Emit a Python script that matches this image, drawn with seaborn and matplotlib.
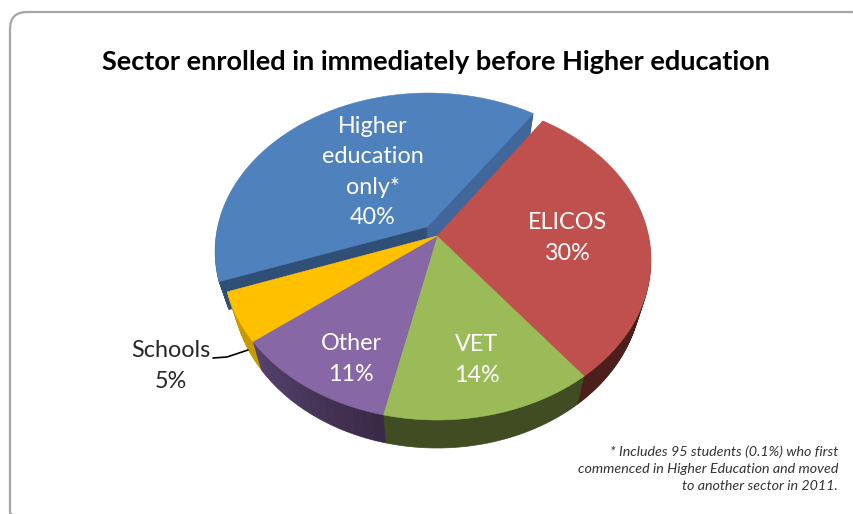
import numpy as np
import matplotlib
matplotlib.use("Agg")
import matplotlib.pyplot as plt
import seaborn as sns
from matplotlib.patches import FancyBboxPatch
from matplotlib.path import Path
from matplotlib.transforms import Transform

categories = ["ELICOS", "VET", "Other", "Schools", "Higher\neducation\nonly*"]
shares = [30, 14, 11, 5, 40]

top_colors = ["#c0504d", "#9bbb59", "#8767a5", "#ffc000", "#4f81bd"]
# Wall shade at the clockwise start and end of each sector.
wall_colors = [("#4c1e1c", "#4c1e1c"), ("#404c22", "#404c22"), ("#3a2a48", "#56426c"),
               ("#c99a00", "#c99a00"), ("#2f4f76", "#41669a")]
wall_slices = [1, 1, 16, 1, 2]

title = "Sector enrolled in immediately before Higher education"
footnote = ("* Includes 95 students (0.1%) who first\n"
            "commenced in Higher Education and moved\n"
            "to another sector in 2011.")

START_ANGLE = 55.8
EXPLODE = 0.075
DEPTH = 28
FONT = ["Lato", "DejaVu Sans"]


class TiltedDisc(Transform):
    """Projects the unit-circle pie onto a tilted disc, in figure pixels."""
    input_dims = output_dims = 2

    def __init__(self, drop=0.0):
        super().__init__()
        self.drop = drop

    def transform_non_affine(self, xy):
        xy = np.asarray(xy, dtype=float)
        w = 1 + 0.15 * xy[:, 1]
        shrink = 1 - 0.045 * self.drop / DEPTH
        return np.column_stack([437 + shrink * 211.6 * xy[:, 0] / w,
                                236 - 156.4 * xy[:, 1] / w + self.drop])

    def transform_path_non_affine(self, path):
        pts = [path.vertices[0]]
        for seg, _ in path.iter_bezier():
            pts.extend(seg(np.linspace(0, 1, 25))[1:])
        pts = np.array(pts)
        return Path(self.transform_non_affine(pts))


sns.set_theme(style="white")
fig = plt.figure(figsize=(8.54, 5.14), dpi=100)
ax = fig.add_axes([0, 0, 1, 1])

# Side walls: a stack of dark pies, painted from the bottom up.
wall_palette = []
wall_values = []
wall_owner = []
for i, (share, (c0, c1), n) in enumerate(zip(shares, wall_colors, wall_slices)):
    rgb0, rgb1 = np.array(matplotlib.colors.to_rgb(c0)), np.array(matplotlib.colors.to_rgb(c1))
    for t in (np.linspace(0, 1, n) if n > 1 else [0.0]):
        wall_palette.append(tuple(rgb0 + (rgb1 - rgb0) * t))
    wall_values.extend([share / n] * n)
    wall_owner.extend([i] * n)

# Offset of the pulled-out sector along its middle direction.
last = len(shares) - 1
mid = np.deg2rad(START_ANGLE - 360 * (sum(shares[:last]) + shares[last] / 2) / sum(shares))
offset = (EXPLODE * np.cos(mid), EXPLODE * np.sin(mid))

for drop in range(DEPTH, 0, -1):
    wedges, _ = ax.pie(wall_values, colors=wall_palette, startangle=START_ANGLE,
                       counterclock=False, labeldistance=None)
    for wedge, owner in zip(wedges, wall_owner):
        wedge.set_edgecolor(wedge.get_facecolor())
        wedge.set_linewidth(0.5)
        if owner == last:
            wedge.set_center(offset)
        wedge.set_transform(TiltedDisc(drop) + ax.transData)

# Top face.
wedges, _ = ax.pie(shares, colors=sns.color_palette(top_colors), startangle=START_ANGLE,
                   counterclock=False, labeldistance=None,
                   explode=[0, 0, 0, 0, EXPLODE])
for wedge in wedges:
    wedge.set_edgecolor(wedge.get_facecolor())
    wedge.set_linewidth(0.4)
    wedge.set_transform(TiltedDisc() + ax.transData)

ax.set_aspect("auto")
ax.set_xlim(0, 854)
ax.set_ylim(514, 0)
ax.axis("off")

ax.add_patch(FancyBboxPatch((10, 12), 857, 518, boxstyle="round,pad=0,rounding_size=17",
                            fc="none", ec="#a6a6a6", lw=1.6, clip_on=True))

ax.text(436, 62, title, ha="center", va="center", fontsize=19.5, fontweight="bold",
        color="black", family=FONT)

label_spots = [(568, 238), (477, 360), (351, 359), (171, 366), (373, 172)]
for name, share, (x, y) in zip(categories, shares, label_spots):
    ax.text(x, y, f"{name}\n{share}%", ha="center", va="center", fontsize=16.8,
            linespacing=1.55, family=FONT,
            color="#262626" if name == "Schools" else "white")

ax.plot([213, 227, 248], [358, 357, 350], color="black", lw=1.2)

ax.text(838, 469, footnote, ha="right", va="center", fontsize=10.25, style="italic",
        linespacing=1.5, color="#333333", family=FONT)

fig.savefig("out.png", dpi=100)
